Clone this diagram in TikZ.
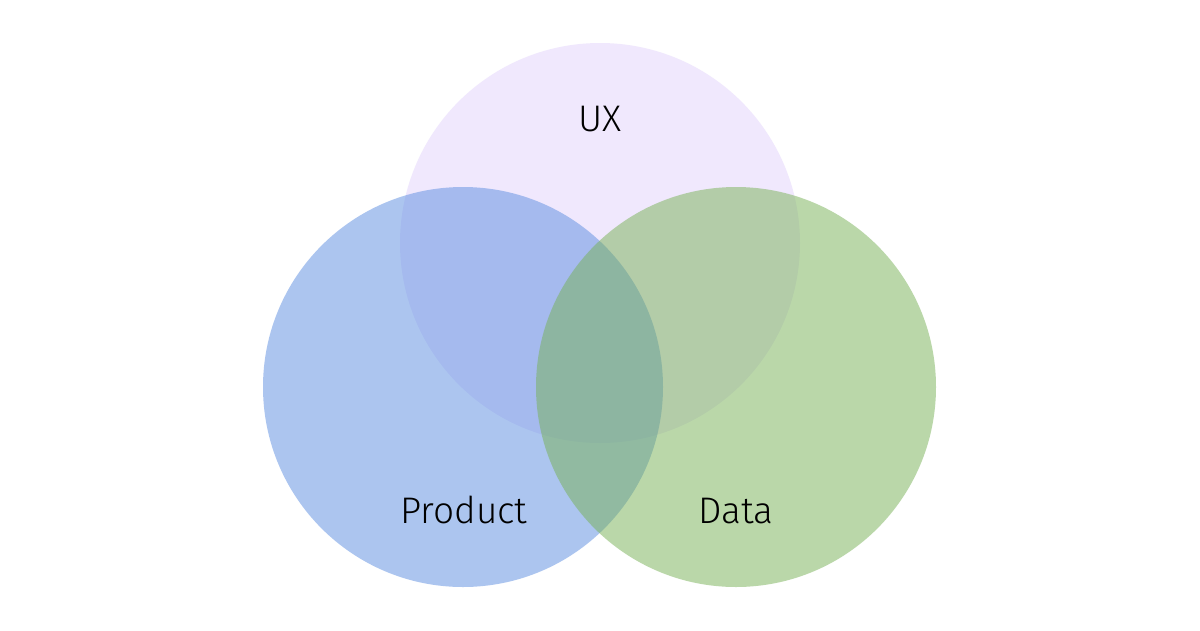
\documentclass[tikz,border=0pt]{standalone}
\usepackage{fontspec}
\setmainfont{Fira Sans Light}
\usepackage{tikz}
\definecolor{uxfill}{HTML}{F0E8FD}
\definecolor{prodfill}{HTML}{5B8DE1}
\definecolor{datafill}{HTML}{77B155}
\tikzset{
  venn/.style = {circle, inner sep=0pt, minimum size=400pt, draw=none},
  venn_ux/.style = {venn, fill=uxfill},% cercle UX
  venn_p/.style = {venn, fill=prodfill, fill opacity=0.5},% cercle produit
  venn_d/.style = {venn, fill=datafill, fill opacity=0.5},% cercle donnees
  label_v/.style = {inner sep=0pt, anchor=base, text=black,
    font=\fontsize{37}{44}\selectfont}
}
\begin{document}
\begin{tikzpicture}[x=1pt,y=-1pt]
\useasboundingbox [fill=white] (0,0) rectangle (1200,630);
\node [venn_ux] (ux) at (600,243) {};
\node [venn_p] (product) at (463,387) {};
\node [venn_d] (data) at (736,387) {};
\node [label_v] (uxlabel) at (600,131) {UX};
\node [label_v] (productlabel) at (464,523) {Product};
\node [label_v] (datalabel) at (736,523) {Data};
\end{tikzpicture}
\end{document}
